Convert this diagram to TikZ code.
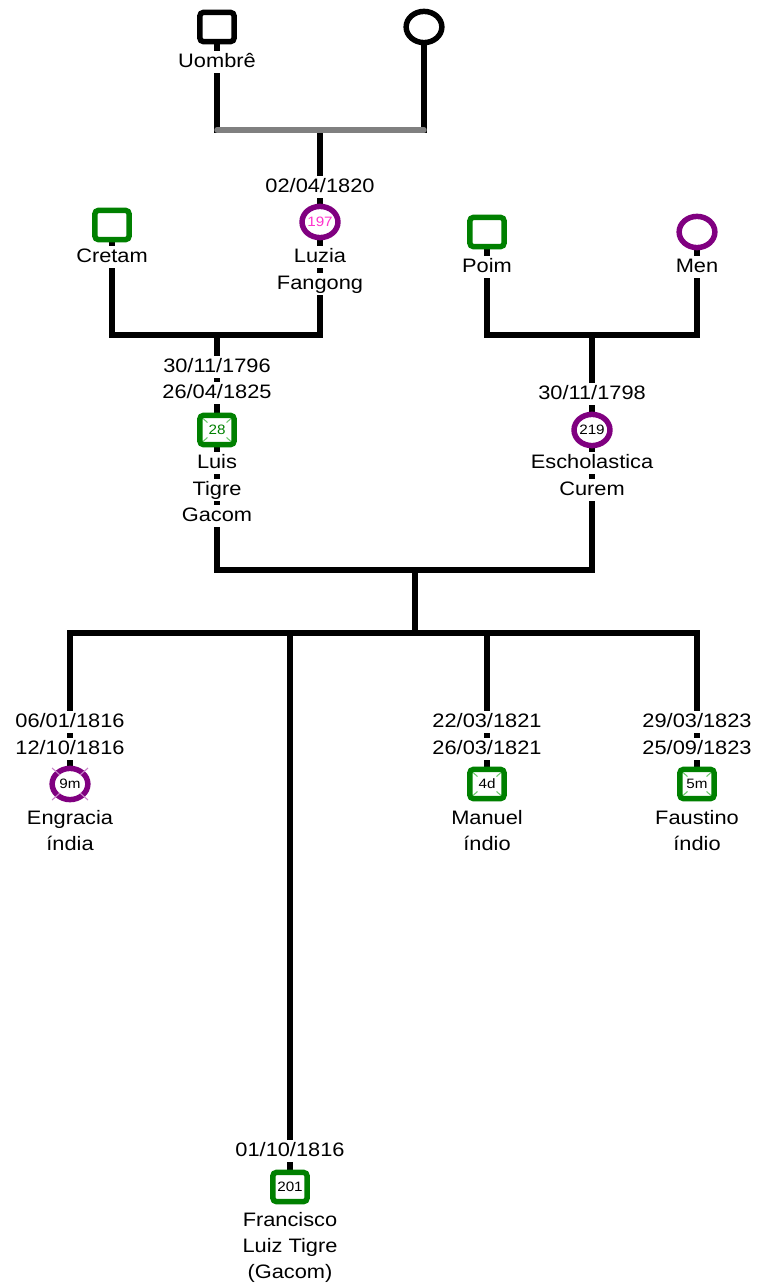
\documentclass[tikz,border=0pt]{standalone}
\usepackage{fontspec}
\setmainfont{Liberation Sans}[FakeStretch=1.12]
\usetikzlibrary{shapes.geometric,backgrounds}

\definecolor{malegreen}{RGB}{0,128,0}
\definecolor{femalepurple}{RGB}{128,0,128}
\definecolor{idmagenta}{RGB}{255,51,204}
\definecolor{bargrey}{RGB}{128,128,128}
\definecolor{tickgreen}{RGB}{110,200,110}
\definecolor{tickpurple}{RGB}{200,130,200}

% small diagonal marks in the inner corners of a square symbol
\newcommand\cornerticks[2]{%
  \foreach \sx/\sy in {1/1,1/-1,-1/1,-1/-1}{%
    \draw[#2,line width=0.8pt] ([shift={(\sx*14,\sy*11.5)}]#1.center) -- ([shift={(\sx*9.5,\sy*7.5)}]#1.center);}%
}
% diagonal marks crossing the ring of a circle symbol
\newcommand\ringticks[2]{%
  \foreach \sx/\sy in {1/1,1/-1,-1/1,-1/-1}{%
    \draw[#2,line width=0.8pt] ([shift={(\sx*10,\sy*9)}]#1.center) -- ([shift={(\sx*18,\sy*16)}]#1.center);}%
}

\begin{document}
\begin{tikzpicture}[x=0.75pt,y=-0.75pt,
  link/.style={line width=4.1pt,line cap=rect,line join=miter},
  bar/.style={line width=4.1pt,draw=bargrey,line cap=round},
  lbl/.style={fill=white,inner xsep=1pt,inner ysep=1.5pt,
    font=\fontsize{14.6}{17}\selectfont,text height=11.2pt,text depth=2.4pt},
  male/.style={rectangle,rounded corners=2.5pt,draw=#1,line width=4.1pt,fill=white,
    minimum width=25.6pt,minimum height=21.8pt,inner sep=0pt,
    font=\fontsize{10.2}{12}\selectfont},
  male/.default=black,
  female/.style={ellipse,draw=#1,line width=4.1pt,fill=white,
    minimum width=26.8pt,minimum height=23.4pt,inner sep=0pt,
    font=\fontsize{10.2}{12}\selectfont},
  female/.default=black]

\useasboundingbox (0,0) rectangle (757,1284);

% ---- grandparents ----
\node[male] (uombre) at (217,27) {};
\node[lbl] (uombreN) at (217,62) {Uombrê};
\node[female] (mother0) at (424,27) {};

\node[lbl] (luziaB) at (320,187) {02/04/1820};
\node[female=femalepurple,text=idmagenta] (luzia) at (320,222) {197};
\node[lbl] (luziaN1) at (320,257) {Luzia};
\node[lbl] (luziaN2) at (320,284) {Fangong};

\node[male=malegreen] (cretam) at (112,225) {};
\node[lbl] (cretamN) at (112,257) {Cretam};

\node[male=malegreen] (poim) at (487,232) {};
\node[lbl] (poimN) at (487,267) {Poim};
\node[female=femalepurple] (men) at (697,232) {};
\node[lbl] (menN) at (697,267) {Men};

% ---- parents ----
\node[lbl] (luisB) at (217,367) {30/11/1796};
\node[lbl] (luisD) at (217,393) {26/04/1825};
\node[male=malegreen,text=malegreen] (luis) at (217,430) {28};
\node[lbl] (luisN1) at (217,463) {Luis};
\node[lbl] (luisN2) at (217,490) {Tigre};
\node[lbl] (luisN3) at (217,516) {Gacom};

\node[lbl] (eschoB) at (592,394) {30/11/1798};
\node[female=femalepurple] (escho) at (592,430) {219};
\node[lbl] (eschoN1) at (592,463) {Escholastica};
\node[lbl] (eschoN2) at (592,490) {Curem};

% ---- children ----
\node[lbl] (engB) at (70,722) {06/01/1816};
\node[lbl] (engD) at (70,749) {12/10/1816};
\node[female=femalepurple] (engracia) at (70,784) {9m};
\node[lbl] (engN1) at (70,819) {Engracia};
\node[lbl] (engN2) at (70,845) {índia};

\node[lbl] (manB) at (487,722) {22/03/1821};
\node[lbl] (manD) at (487,749) {26/03/1821};
\node[male=malegreen] (manuel) at (487,784) {4d};
\node[lbl] (manN1) at (487,819) {Manuel};
\node[lbl] (manN2) at (487,845) {índio};

\node[lbl] (fauB) at (697,722) {29/03/1823};
\node[lbl] (fauD) at (697,749) {25/09/1823};
\node[male=malegreen] (faustino) at (697,784) {5m};
\node[lbl] (fauN1) at (697,819) {Faustino};
\node[lbl] (fauN2) at (697,845) {índio};

\node[lbl] (fraB) at (290,1151) {01/10/1816};
\node[male=malegreen] (francisco) at (290,1187) {201};
\node[lbl] (fraN1) at (290,1221) {Francisco};
\node[lbl] (fraN2) at (290,1247) {Luiz Tigre};
\node[lbl] (fraN3) at (290,1273) {(Gacom)};

% marks inside the symbols
\cornerticks{luis}{tickgreen}
\cornerticks{manuel}{tickgreen}
\cornerticks{faustino}{tickgreen}
\ringticks{engracia}{tickpurple}

% junctions of the family lines
\coordinate (j1) at (320,130);
\coordinate (j2) at (217,335);
\coordinate (j3) at (592,335);
\coordinate (j4) at (415,570);
\coordinate (j5) at (415,633);

\begin{scope}[on background layer]
  \fill[white] (0,0) rectangle (757,1284);
  \draw[link] (uombre) -- (uombre |- j1);
  \draw[link] (mother0) -- (mother0 |- j1);
  \draw[link] (j1) -- (luzia);
  \draw[bar] (uombre |- j1) -- (mother0 |- j1);

  \draw[link] (cretam) -- (cretam |- j2) -- (luzia |- j2) -- (luzia);
  \draw[link] (j2) -- (luis);

  \draw[link] (poim) -- (poim |- j3) -- (men |- j3) -- (men);
  \draw[link] (j3) -- (escho);

  \draw[link] (luis) -- (luis |- j4) -- (escho |- j4) -- (escho);
  \draw[link] (j4) -- (j5);
  \draw[link] (engracia |- j5) -- (faustino |- j5);
  \draw[link] (engracia |- j5) -- (engracia);
  \draw[link] (francisco |- j5) -- (francisco);
  \draw[link] (manuel |- j5) -- (manuel);
  \draw[link] (faustino |- j5) -- (faustino);
\end{scope}
\end{tikzpicture}
\end{document}
